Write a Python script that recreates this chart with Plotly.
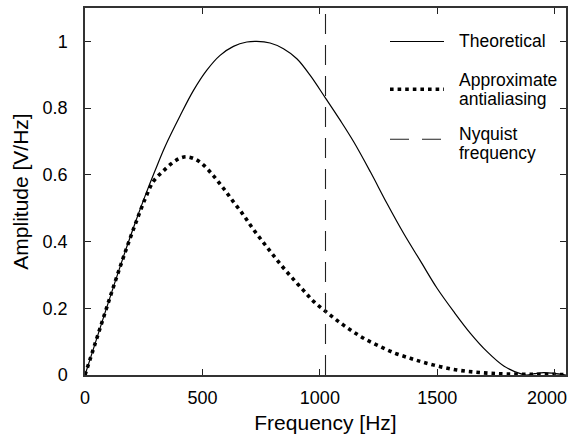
import plotly.graph_objects as go

# ---- data ----
freq_theo = [0, 43, 85, 128, 170, 213, 256, 298, 341, 405, 462, 518, 575, 632, 689, 731, 788,
             845, 902, 959, 1024, 1087, 1144, 1215, 1286, 1357, 1428, 1499, 1570, 1641, 1712,
             1783, 1854, 1880, 1915, 1953, 1995, 2048]
amp_theo = [0, 0.094, 0.186, 0.279, 0.368, 0.455, 0.537, 0.612, 0.685, 0.777, 0.853, 0.913,
            0.958, 0.985, 0.998, 1.0, 0.995, 0.978, 0.948, 0.898, 0.83, 0.763, 0.699, 0.609,
            0.514, 0.424, 0.342, 0.26, 0.19, 0.125, 0.07, 0.027, 0.004, 0.0, 0.004, 0.007,
            0.005, 0.0]

freq_aa = [0, 43, 85, 128, 170, 213, 256, 291, 334, 376, 405, 433, 469, 505, 548, 590, 632,
           675, 711, 754, 796, 839, 882, 931, 974, 1026, 1080, 1137, 1194, 1258, 1321, 1385,
           1441, 1513, 1584, 1655, 1726, 1800, 1900, 2000, 2048]
amp_aa = [0, 0.094, 0.186, 0.279, 0.366, 0.45, 0.528, 0.58, 0.612, 0.638, 0.65, 0.654, 0.647,
          0.629, 0.596, 0.559, 0.519, 0.479, 0.442, 0.402, 0.364, 0.326, 0.291, 0.253, 0.22,
          0.19, 0.16, 0.132, 0.107, 0.085, 0.065, 0.05, 0.038, 0.025, 0.015, 0.009, 0.005,
          0.003, 0.002, 0.002, 0.001]

nyquist = 1024
x_range = [0, 2048]
y_range = [0, 1.1]
x_ticks = [0, 500, 1000, 1500, 2000]
x_ticklabels = ["0", "500", "1000", "1500", "2000"]
y_ticks = [0, 0.2, 0.4, 0.6, 0.8, 1]
y_ticklabels = ["0", "0.2", "0.4", "0.6", "0.8", "1"]

legend_labels = ["Theoretical", ["Approximate", "antialiasing"], ["Nyquist", "frequency"]]

FONT = "Liberation Sans, Arial, Helvetica, sans-serif"

fig = go.Figure()
fig.add_trace(go.Scatter(x=freq_theo, y=amp_theo, mode="lines",
                         line=dict(color="black", width=1.2, shape="spline", smoothing=1.0),
                         showlegend=False, hoverinfo="skip"))
fig.add_trace(go.Scatter(x=freq_aa, y=amp_aa, mode="lines",
                         line=dict(color="black", width=3.6, dash="3.6px,4px", shape="spline", smoothing=1.0),
                         showlegend=False, hoverinfo="skip"))
fig.add_trace(go.Scatter(x=[nyquist, nyquist], y=y_range, mode="lines",
                         line=dict(color="#222", width=1.1, dash="20px,11px"),
                         showlegend=False, hoverinfo="skip"))

# ---- manual legend (paper coordinates) ----
L, R, T, B = 85, 566, 8, 375
def px(x):
    return (x - L) / (R - L)
def py(y):
    return (B - y) / (B - T)

legend_styles = [dict(color="black", width=1.2),
                 dict(color="black", width=3.6, dash="3.6px,4px"),
                 dict(color="#222", width=1.1, dash="19px,13px")]
legend_line_y = [41.5, 89.3, 139.3]
text_rows = [[(legend_labels[0], 40.5)],
             [(legend_labels[1][0], 80.5), (legend_labels[1][1], 99.5)],
             [(legend_labels[2][0], 134), (legend_labels[2][1], 152.5)]]
for st, ly, rows in zip(legend_styles, legend_line_y, text_rows):
    fig.add_shape(type="line", xref="paper", yref="paper", x0=px(390), x1=px(444),
                  y0=py(ly), y1=py(ly), line=st)
    for txt, ty in rows:
        fig.add_annotation(text=txt, xref="paper", yref="paper", x=px(457), y=py(ty),
                           xanchor="left", yanchor="middle", showarrow=False,
                           font=dict(family=FONT, size=17.5, color="black"))

# last x tick label drawn as an annotation nudged left so it stays inside the figure
x_text = list(x_ticklabels)
last_label = x_text[-1]
x_text[-1] = ""
fig.add_annotation(text=last_label, xref="x", yref="paper", x=x_ticks[-1], y=0,
                   xanchor="center", yanchor="middle", xshift=-8, yshift=-23, showarrow=False,
                   font=dict(family=FONT, size=18, color="black"))

axis_common = dict(showgrid=False, zeroline=False, ticks="inside", ticklen=6, tickwidth=1,
                   tickcolor="#222", showline=True, linecolor="#333", linewidth=1.5,
                   mirror="allticks", automargin=False,
                   tickfont=dict(family=FONT, size=18, color="black"))

fig.update_layout(
    width=574, height=444,
    margin=dict(l=L, r=574 - R, t=T, b=444 - B, autoexpand=False),
    plot_bgcolor="white", paper_bgcolor="white",
    xaxis=dict(range=x_range, tickvals=x_ticks, ticktext=x_text, ticklabelstandoff=6,
               title=dict(text="Frequency [Hz]", font=dict(family=FONT, size=21, color="black"), standoff=8),
               **axis_common),
    yaxis=dict(range=y_range, tickvals=y_ticks, ticktext=y_ticklabels, ticklabelstandoff=12,
               title=dict(text="Amplitude [V/Hz]", font=dict(family=FONT, size=21, color="black"), standoff=8),
               **axis_common),
)

fig.write_html("out.html")
